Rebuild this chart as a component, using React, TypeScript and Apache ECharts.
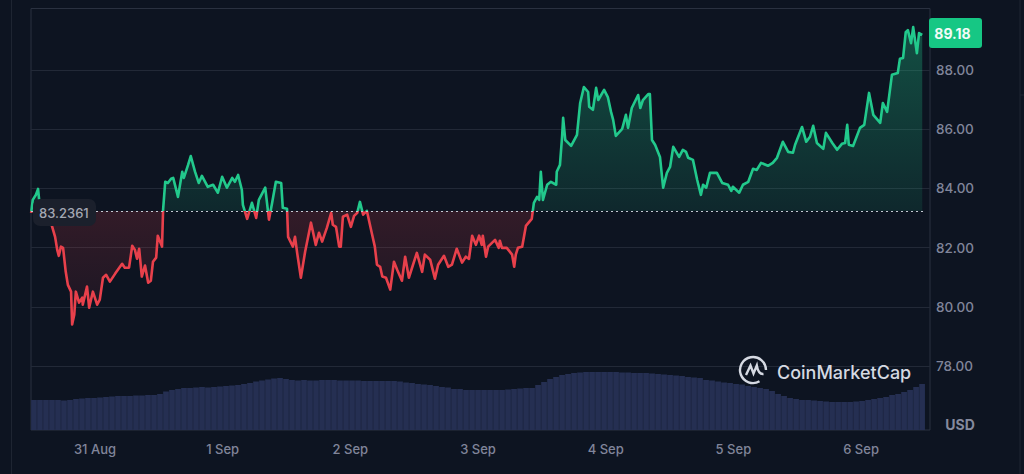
import React, { useEffect, useRef } from "react";
import * as echarts from "echarts";

const BASE_PRICE = 83.2361;
const LAST_PRICE = "89.18";
const BASE_LABEL = "83.2361";

// hours since 31 Aug 00:00
const priceHours = [
  -12.0,-11.7,-11.1,-10.7,-10.5,-10.0,-9.2,-8.5,-8.1,-7.5,-7.1,-6.8,-6.4,-6.0,-5.5,-5.1,-4.5,-4.3,-3.9,-3.6,-3.0,-2.4,-2.3,-1.5,-1.1,-0.4,0.4,0.9,1.5,2.1,2.8,3.8,5.1,5.6,6.4,7.0,7.5,7.9,8.3,8.8,9.4,10.0,10.5,10.9,11.5,11.8,12.6,12.8,13.2,13.7,14.3,14.7,15.6,16.4,16.7,17.5,18.0,18.8,19.5,20.1,21.2,22.2,23.1,23.9,24.8,25.8,26.3,26.9,27.6,27.8,28.6,29.5,30.3,30.8,32.0,32.7,33.3,34.0,35.0,35.3,36.1,36.3,37.2,37.6,38.0,38.7,39.5,40.6,41.5,42.1,42.7,43.6,44.4,44.7,45.3,45.9,46.2,46.6,47.4,48.1,48.7,49.3,49.8,50.4,51.1,52.1,52.6,53.0,53.6,54.0,54.7,55.5,56.2,56.8,57.7,58.3,59.0,60.5,61.5,62.0,63.0,63.9,64.5,65.6,66.4,67.1,68.0,69.0,69.7,70.3,70.9,71.6,72.2,72.7,72.9,73.5,73.9,75.2,75.9,76.1,76.5,77.4,78.4,78.8,79.1,79.5,80.3,81.0,82.1,82.5,83.1,83.5,83.8,84.2,85.0,85.7,86.7,86.8,87.4,87.8,88.0,88.4,89.5,90.6,91.2,91.9,92.7,92.9,93.6,94.2,94.6,95.7,96.4,97.0,97.4,97.9,99.1,99.8,100.2,100.9,102.1,102.5,103.0,104.0,104.3,104.7,105.3,106.2,106.8,107.5,108.1,108.7,109.8,110.5,111.1,111.5,112.4,113.2,113.9,114.3,114.9,115.6,116.9,117.9,119.0,119.6,119.9,121.1,121.8,122.8,123.7,124.4,125.2,126.5,127.4,128.2,129.3,130.3,131.2,131.6,132.9,133.7,134.4,135.0,135.7,136.9,137.4,138.6,139.5,140.4,141.0,141.4,141.7,142.5,143.8,144.6,145.5,146.3,147.6,148.1,148.9,149.8,150.9,151.3,151.9,152.4,152.8,153.4,153.8,154.5,154.9,155.5,
];
const prices = [
  83.17,83.61,83.78,83.98,83.61,83.44,83.14,82.87,82.73,82.36,81.92,81.72,82.03,81.99,81.18,80.74,80.51,79.40,79.73,80.51,80.14,80.31,80.07,80.68,79.97,80.51,80.07,80.24,80.98,81.08,80.85,81.12,81.45,81.32,81.32,82.06,81.92,81.62,81.96,81.02,81.39,80.81,80.88,81.52,81.66,82.40,82.03,83.27,84.22,84.18,84.32,84.35,83.71,84.56,84.35,84.79,85.09,84.56,84.18,84.42,84.05,84.12,83.85,84.39,84.02,84.35,84.22,84.45,83.95,83.44,82.97,83.51,83.00,83.61,84.02,82.94,83.51,84.22,84.18,83.34,83.31,82.36,82.03,82.36,81.82,80.98,81.86,82.84,82.09,82.50,82.20,82.67,83.17,82.77,82.70,82.03,82.03,83.04,83.11,82.70,83.07,83.17,83.54,83.11,83.24,82.43,82.03,81.42,81.35,81.02,80.98,80.58,81.52,81.25,80.88,81.69,80.98,81.82,81.18,81.76,81.59,80.95,81.42,81.72,81.35,81.42,81.96,81.49,81.69,81.62,82.40,82.09,82.40,82.09,82.40,81.69,82.03,82.26,81.99,82.23,81.99,81.99,81.76,81.35,81.76,81.99,82.03,82.73,82.97,83.51,83.71,83.61,84.56,83.61,84.12,84.22,84.12,84.56,84.79,85.74,86.38,85.63,85.43,85.80,86.88,87.42,87.25,86.75,86.65,87.39,86.98,87.32,87.08,86.58,86.31,85.77,86.01,86.48,86.04,86.71,87.15,86.71,86.98,87.18,87.18,85.63,85.46,85.06,84.02,84.52,84.72,85.40,85.06,85.30,85.23,85.03,84.96,84.28,83.78,84.12,84.02,84.52,84.52,84.18,84.12,83.91,84.05,83.85,84.12,84.22,84.66,84.62,84.86,84.76,84.86,85.03,85.57,85.23,85.20,85.47,86.07,85.57,85.74,86.11,85.53,85.33,85.87,85.53,85.30,85.50,85.53,86.14,85.47,85.43,86.04,86.14,87.22,86.48,86.21,86.88,86.58,87.83,87.89,88.37,88.40,89.27,89.34,88.90,89.44,88.56,89.24,89.18,
];

const volumes = [
  30,30,30,30,30,29.5,30,31,31.5,32,32,32.5,33,33.5,34,34,34,34.5,34.5,35,35,36,38.5,40,41,42,42,42.5,43,42.5,43,43.5,44,44.5,45,46,47,48.5,49.5,50.5,51.5,52,51,50,49.5,50,49.5,49.5,50,50,50,49.5,49.5,49.5,49.5,49,49,49,49,49,49,48.5,47.5,47,46,45.5,45,44,43,42.5,41,41,40,40,40,40,40,40,40,40.5,41,41.5,42,42,45,48,51,53,55,56,57,57.5,58,58,58,58,58,58,57.5,57.5,57,57,57,56.5,56,55.5,55,54.5,54,53,52.5,52,50,49.5,48.5,47.5,47,46,45.5,44,43,42,41,39,36,34,32,31,30,30,29.5,29,28.5,28,28,28,28,28.5,29,30,31,32,33,35,36,38,40,43,46,
];
const VOLUME_START_HOUR = -11.47;
const VOLUME_STEP_HOURS = 1.128;

const dayTicks = [0, 24, 48, 72, 96, 120, 144];
const dayLabels = ["31 Aug", "1 Sep", "2 Sep", "3 Sep", "4 Sep", "5 Sep", "6 Sep"];
const priceTicks = [78, 80, 82, 84, 86, 88];

const BG = "#0d1421";
const LINE = "#2a3140";
const GRID = "#222937";
const GREEN = "#22c98c";
const RED = "#e8404b";
const LABEL = "#80859a";
const FONT = "Inter";

const LOGO_PATH =
  "M20.5 25.3A13 13 0 1 1 27 14M7 19L11.5 9.5L14.5 17.5L17.8 9.5C18.6 14 20 18.6 24.5 18";

export default function App() {
  const ref = useRef<HTMLDivElement>(null);

  useEffect(() => {
    document.body.style.margin = "0";
    document.body.style.background = BG;
    echarts.graphic.registerShape("cmcLogo", echarts.graphic.extendPath(LOGO_PATH, {}));
    const chart = echarts.init(ref.current!, null, { renderer: "svg" });

    const top = 8.5;
    const height = 421.5;
    const yMin = 75.84;
    const yMax = 90.07;
    const baseY = top + ((yMax - BASE_PRICE) / (yMax - yMin)) * height;
    const f = baseY / 474;

    chart.setOption({
      animation: false,
      backgroundColor: BG,
      grid: {
        left: 31, top, width: 899, height,
        show: true, borderColor: LINE, borderWidth: 1, backgroundColor: "transparent",
      },
      xAxis: {
        type: "value",
        min: -12.03,
        max: 156.96,
        axisLine: { show: false },
        splitLine: { show: false },
        axisTick: { show: false, customValues: dayTicks },
        axisLabel: {
          customValues: dayTicks,
          formatter: (v: number) => dayLabels[dayTicks.indexOf(v)] ?? "",
          color: LABEL, fontFamily: FONT, fontSize: 13, fontWeight: 500, margin: 12,
        },
      },
      yAxis: [
        {
          type: "value",
          position: "right",
          min: yMin,
          max: yMax,
          axisLine: { show: false },
          axisTick: { show: false, customValues: priceTicks },
          splitLine: { show: true, lineStyle: { color: GRID, width: 1 } },
          axisLabel: {
            customValues: priceTicks,
            formatter: (v: number) => v.toFixed(2),
            color: LABEL, fontFamily: FONT, fontSize: 13.5, fontWeight: 500, margin: 6,
          },
        },
        { type: "value", min: 0, max: height, show: false },
      ],
      series: [
        {
          type: "bar",
          yAxisIndex: 1,
          barWidth: 5.7,
          itemStyle: { color: "#252f52" },
          data: volumes.map((v, i) => [VOLUME_START_HOUR + i * VOLUME_STEP_HOURS, v]),
          silent: true,
          z: 1,
        },
        {
          type: "line",
          showSymbol: false,
          symbol: "none",
          data: priceHours.map((h, i) => [h, prices[i]]),
          lineStyle: {
            width: 2.6,
            join: "round",
            color: new echarts.graphic.LinearGradient(0, 0, 0, 474, [
              { offset: 0, color: GREEN },
              { offset: f, color: GREEN },
              { offset: f, color: RED },
              { offset: 1, color: RED },
            ], true),
          },
          areaStyle: {
            origin: BASE_PRICE,
            opacity: 1,
            color: new echarts.graphic.LinearGradient(0, 0, 0, 474, [
              { offset: 0, color: "rgba(31,201,138,0.36)" },
              { offset: f, color: "rgba(31,201,138,0.11)" },
              { offset: f, color: "rgba(234,61,72,0.17)" },
              { offset: 0.7, color: "rgba(234,61,72,0.05)" },
              { offset: 1, color: "rgba(234,61,72,0.05)" },
            ], true),
          },
          markLine: {
            silent: true,
            symbol: "none",
            label: { show: false },
            lineStyle: { type: [2, 3], color: "#c4c8d2", width: 1 },
            data: [[{ coord: [-12.03, BASE_PRICE] }, { coord: [155.8, BASE_PRICE] }]],
          },
          z: 3,
        },
      ],
      graphic: [
        { type: "line", shape: { x1: 11.5, y1: 0, x2: 11.5, y2: 474 }, style: { stroke: "#1e2532", lineWidth: 1 } },
        { type: "line", shape: { x1: 1020, y1: 0, x2: 1020, y2: 474 }, style: { stroke: "#1e2532", lineWidth: 1 } },
        { type: "line", shape: { x1: 1020, y1: 95, x2: 1024, y2: 95 }, style: { stroke: "#1e2532", lineWidth: 1 } },
        { type: "rect", z: 50, shape: { x: 33, y: 199, width: 63, height: 27, r: 7 }, style: { fill: "#1b202c" } },
        { type: "text", z: 51, x: 39, y: 212.5, style: { text: BASE_LABEL, fill: "#a4a8b4", font: "500 13px Inter", textVerticalAlign: "middle" } },
        { type: "rect", z: 50, shape: { x: 929, y: 18, width: 53, height: 30, r: 3 }, style: { fill: "#16c784" } },
        { type: "text", z: 51, x: 952.5, y: 33.5, style: { text: LAST_PRICE, fill: "#f2fbf7", font: "700 14px Inter", textAlign: "center", textVerticalAlign: "middle" } },
        { type: "text", z: 51, x: 960, y: 424, style: { text: "USD", fill: "#858a9e", font: "700 14px Inter", textAlign: "center", textVerticalAlign: "middle" } },
        { type: "cmcLogo", z: 51, x: 739, y: 356, style: { fill: "none", stroke: "#d5d9e2", lineWidth: 2.4 } },
        { type: "text", z: 51, x: 777, y: 372, style: { text: "CoinMarketCap", fill: "#d5d9e2", font: "500 18px Inter", textVerticalAlign: "middle" } },
      ],
    });
    return () => chart.dispose();
  }, []);

  return <div ref={ref} style={{ position: "absolute", left: 0, top: 0, width: 1024, height: 474 }} />;
}
